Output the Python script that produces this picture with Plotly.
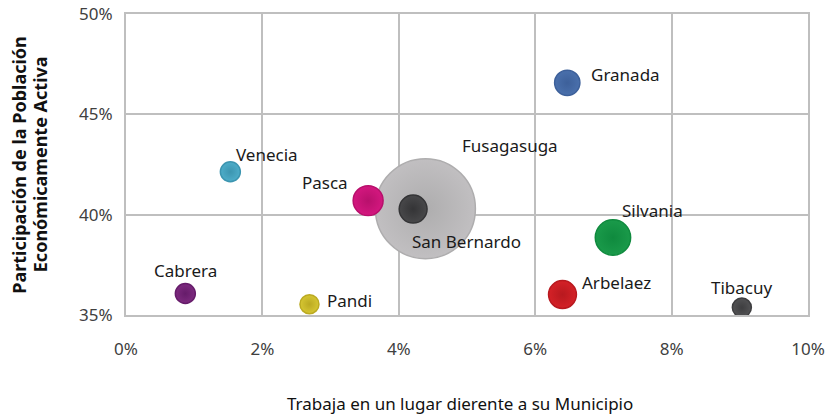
import plotly.graph_objects as go

# Data
municipios = ["Fusagasuga", "Silvania", "Pasca", "Arbelaez", "San Bernardo",
              "Granada", "Venecia", "Cabrera", "Pandi", "Tibacuy"]
trabaja_fuera = [0.0439, 0.0714, 0.0355, 0.0640, 0.0421,
                 0.0647, 0.0153, 0.0087, 0.0269, 0.0903]
participacion_pea = [0.4030, 0.3886, 0.4070, 0.3602, 0.4028,
                     0.4657, 0.4214, 0.3607, 0.3554, 0.3537]
poblacion = [108000, 13500, 9700, 8400, 8400, 6900, 4300, 4300, 3900, 3900]

x_ticks = [0, 0.02, 0.04, 0.06, 0.08, 0.10]
x_tick_labels = ["0%", "2%", "4%", "6%", "8%", "10%"]
y_ticks = [0.35, 0.40, 0.45, 0.50]
y_tick_labels = ["35%", "40%", "45%", "50%"]

x_title = "Trabaja en un lugar dierente a su Municipio"
y_title_lines = ["Participación de la Población", "Económicamente Activa"]

# Styles
colors = {"Fusagasuga": "#C1BFC1", "Silvania": "#1A9A4A", "Pasca": "#D4177F",
          "Arbelaez": "#D42127", "San Bernardo": "#48484A", "Granada": "#4A70AC",
          "Venecia": "#4EADC9", "Cabrera": "#7D2A7F", "Pandi": "#D6C632",
          "Tibacuy": "#525254"}
edge = {"Fusagasuga": "#AEADAE", "Silvania": "#0F8A3E", "Pasca": "#B8106C",
        "Arbelaez": "#B8191F", "San Bernardo": "#343436", "Granada": "#3D609A",
        "Venecia": "#3C95B0", "Cabrera": "#661C6A", "Pandi": "#BBAA22",
        "Tibacuy": "#3E3E40"}
label_pos = {"Fusagasuga": (35, 63, "left"), "Silvania": (7, 27, "left"),
             "Pasca": (-18, 18, "right"), "Arbelaez": (18, 12, "left"),
             "San Bernardo": (-3, -32, "left"), "Granada": (22, 8, "left"),
             "Venecia": (4, 17, "left"), "Cabrera": (0, 23, "center"),
             "Pandi": (16, 4, "left"), "Tibacuy": (0, 20, "center")}

FONT = "Noto Sans"

fig = go.Figure()
fig.add_trace(go.Scatter(
    x=trabaja_fuera, y=participacion_pea, mode="markers",
    text=municipios, hoverinfo="text",
    marker=dict(size=poblacion, sizemode="area", sizeref=21.6,
                color=[colors[m] for m in municipios],
                gradient=dict(type="radial", color=[edge[m] for m in municipios]),
                line=dict(width=1.5, color=[edge[m] for m in municipios]), opacity=1),
    showlegend=False,
))

annotations = []
for m, xv, yv in zip(municipios, trabaja_fuera, participacion_pea):
    dx, dy, anc = label_pos[m]
    annotations.append(dict(x=xv, y=yv, xref="x", yref="y", text=m, showarrow=False,
                            xanchor=anc, yanchor="middle", xshift=dx, yshift=dy,
                            font=dict(family=FONT, size=17, color="#1a1a1a")))

annotations.append(dict(text=x_title,
                        xref="paper", yref="paper", x=0.49, y=-0.295,
                        xanchor="center", yanchor="middle", showarrow=False,
                        font=dict(family=FONT, size=17, color="#111111")))
for line, px in zip(y_title_lines, [-0.158, -0.1265]):
    annotations.append(dict(text="<b>" + line + "</b>",
                            xref="paper", yref="paper", x=px, y=0.5, textangle=-90,
                            xanchor="center", yanchor="middle", showarrow=False,
                            font=dict(family=FONT, size=18, color="#111111")))

fig.update_layout(
    width=826, height=416, autosize=False,
    margin=dict(l=125.5, r=18, t=14, b=100.5, autoexpand=False),
    paper_bgcolor="white", plot_bgcolor="white",
    font=dict(family=FONT, color="#333333"),
    annotations=annotations,
    xaxis=dict(range=[0, 0.10], tickvals=x_ticks, ticktext=x_tick_labels,
               showgrid=True, gridcolor="#BFBFBF", gridwidth=1.5,
               showline=True, linecolor="#BFBFBF", linewidth=2, mirror=True,
               zeroline=False, ticks="", ticklabelstandoff=18, automargin=False,
               ticklabeloverflow="allow",
               tickfont=dict(family=FONT, size=17, color="#404040")),
    yaxis=dict(range=[0.35, 0.50], tickvals=y_ticks, ticktext=y_tick_labels,
               showgrid=True, gridcolor="#BFBFBF", gridwidth=1.5,
               showline=True, linecolor="#BFBFBF", linewidth=2, mirror=True,
               zeroline=False, ticks="", ticklabelstandoff=8, automargin=False,
               ticklabeloverflow="allow",
               tickfont=dict(family=FONT, size=17, color="#404040")),
)

# remove the default page margin so the figure fills the window exactly
fig.write_html("out.html", config={"displayModeBar": False},
               post_script="document.body.style.margin='0';document.body.style.overflow='hidden';")
